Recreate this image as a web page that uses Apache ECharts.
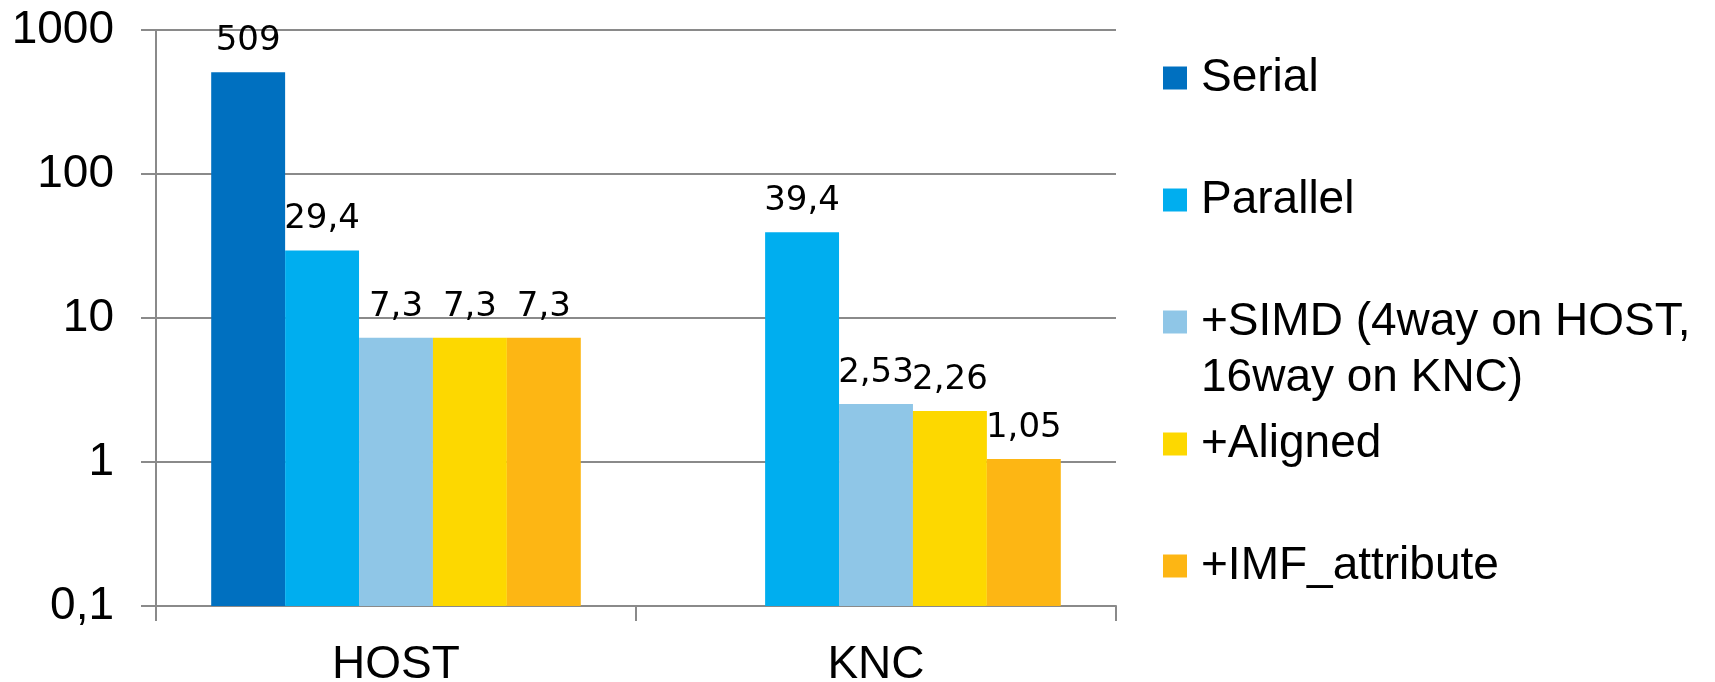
<!DOCTYPE html>
<html>
<head>
<meta charset="utf-8">
<script src="https://cdn.jsdelivr.net/npm/echarts@6/dist/echarts.min.js"></script>
<style>
html,body{margin:0;padding:0;background:#fff;}
#chart{width:1715px;height:682px;}
</style>
</head>
<body>
<div id="chart"></div>
<script>
const categories = ['HOST', 'KNC'];
const seriesNames = ['Serial', 'Parallel', '+SIMD (4way on HOST, 16way on KNC)', '+Aligned', '+IMF_attribute'];
const serial = [509, null];
const parallel = [29.4, 39.4];
const simd = [7.3, 2.53];
const aligned = [7.3, 2.26];
const imfAttribute = [7.3, 1.05];
const yTickLabels = ['0,1', '1', '10', '100', '1000'];
const colors = ['#0070C0', '#00AEEF', '#8FC6E7', '#FDD800', '#FDB614'];
const legendTops = [50, 172, 238, 416, 538];

const values = [serial, parallel, simd, aligned, imfAttribute];
const axisGray = '#8a8a8a';

const chart = echarts.init(document.getElementById('chart'), null, {renderer: 'canvas'});

const legends = seriesNames.map((name, i) => ({
  data: [name],
  left: 1163,
  top: legendTops[i],
  orient: 'vertical',
  padding: 0,
  icon: 'rect',
  itemWidth: 24,
  itemHeight: 23,
  selectedMode: false,
  formatter: n => (n.indexOf(', ') >= 0 ? '\n' + n.replace(', ', ',\n') : n),
  textStyle: {
    fontFamily: 'Liberation Sans, Arial, sans-serif',
    fontSize: 46,
    color: '#000',
    lineHeight: 56,
    padding: [0, 0, 0, 9]
  }
}));

chart.setOption({
  animation: false,
  backgroundColor: '#fff',
  grid: {left: 156, right: 599, top: 30, bottom: 76, outerBoundsMode: 'none', containLabel: false},
  legend: legends,
  xAxis: {
    type: 'category',
    data: categories,
    axisLine: {show: true, lineStyle: {color: axisGray, width: 2}},
    axisTick: {show: true, length: 15, alignWithLabel: false, lineStyle: {color: axisGray, width: 2}},
    axisLabel: {
      fontFamily: 'Liberation Sans, Arial, sans-serif',
      fontSize: 46,
      lineHeight: 46,
      color: '#000',
      margin: 36
    }
  },
  yAxis: {
    type: 'log',
    logBase: 10,
    min: 0.1,
    max: 1000,
    startValue: 0.1,
    axisLine: {show: true, lineStyle: {color: axisGray, width: 2}},
    axisTick: {show: true, length: 15, lineStyle: {color: axisGray, width: 2}},
    splitLine: {show: true, lineStyle: {color: axisGray, width: 2}},
    minorTick: {show: false},
    axisLabel: {
      fontFamily: 'Liberation Sans, Arial, sans-serif',
      fontSize: 46,
      color: '#000',
      margin: 42,
      formatter: v => yTickLabels[Math.round(Math.log10(v)) + 1]
    }
  },
  series: seriesNames.map((name, i) => ({
    name: name,
    type: 'bar',
    data: values[i],
    barGap: 0,
    barCategoryGap: '23%',
    itemStyle: {color: colors[i]},
    label: {
      show: true,
      position: 'top',
      distance: 14,
      fontFamily: 'DejaVu Sans, Verdana, sans-serif',
      fontSize: 34,
      color: '#000',
      formatter: p => String(p.value).replace('.', ',')
    }
  }))
});
</script>
</body>
</html>
